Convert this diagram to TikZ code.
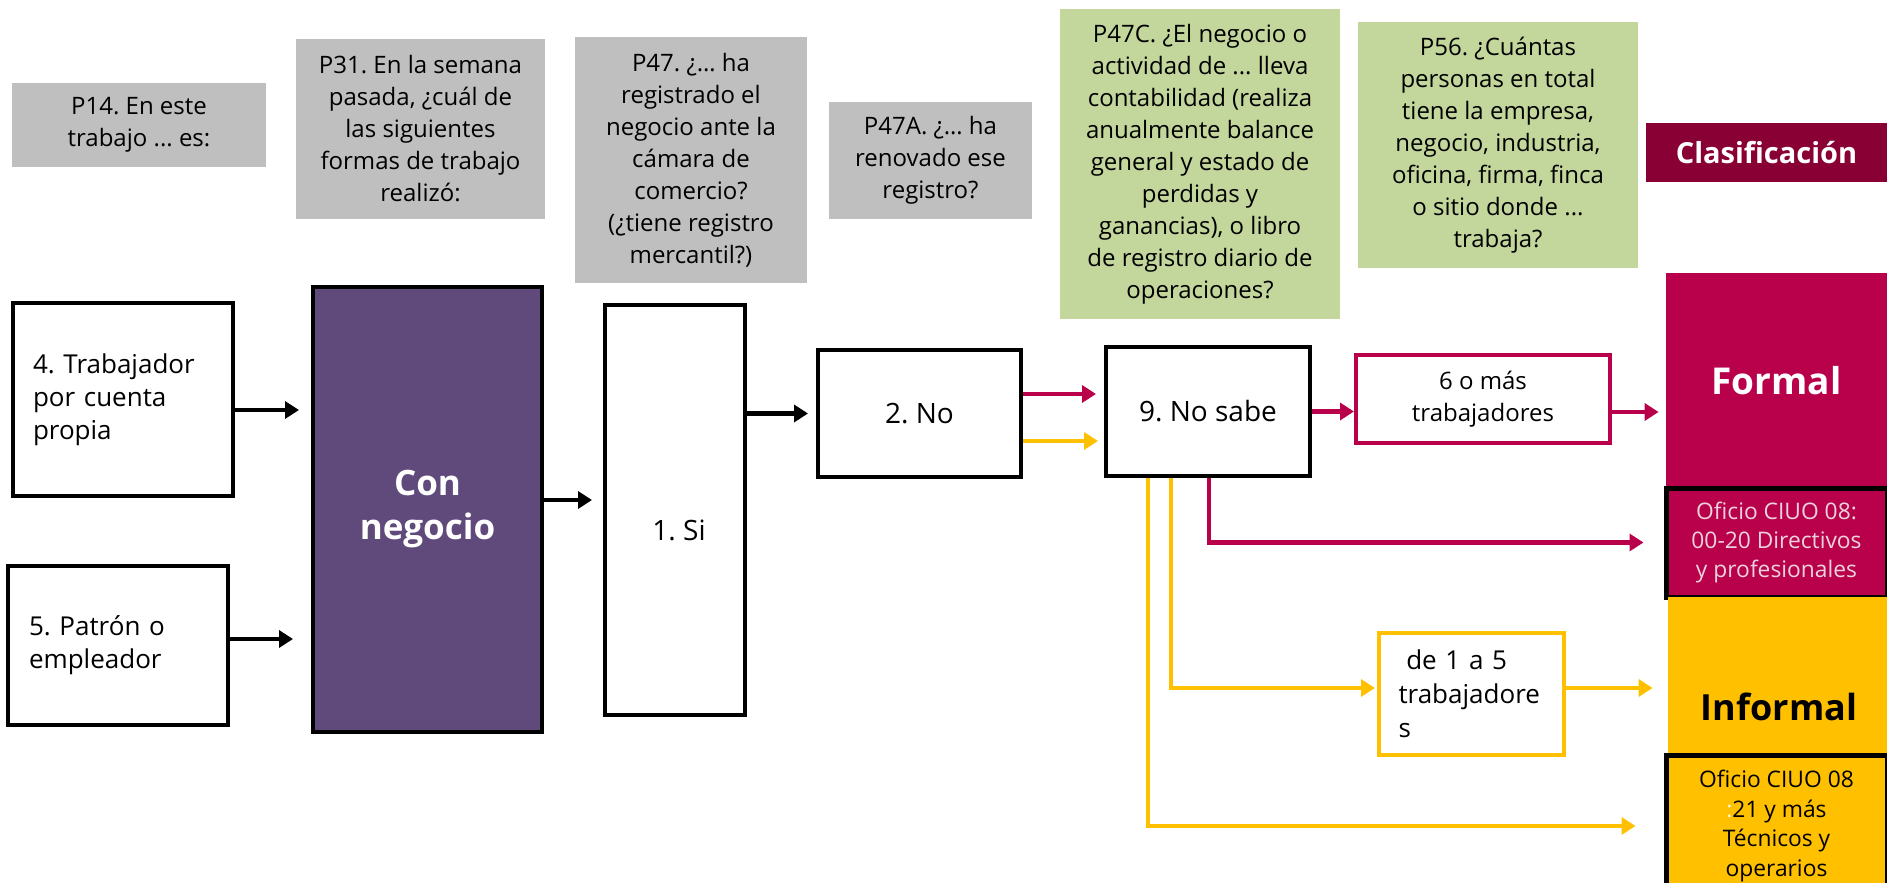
\documentclass[tikz,border=0pt]{standalone}
\usepackage{fontspec}
\setmainfont{Open Sans}
\usetikzlibrary{arrows.meta,calc}
\definecolor{qgray}{HTML}{BFBFBF}
\definecolor{qgreen}{HTML}{C3D69B}
\definecolor{purp}{HTML}{604A7B}
\definecolor{crim}{HTML}{B9004B}
\definecolor{darkcrim}{HTML}{890034}
\definecolor{gold}{HTML}{FFC000}
\definecolor{pinktxt}{HTML}{EBD3DC}
\definecolor{ltyel}{HTML}{FFF2CC}
\newcommand\fsz[2]{\fontsize{#1}{#2}\selectfont}
\frenchspacing
\begin{document}
\begin{tikzpicture}[x=0.5pt,y=-0.5pt,
  qbox/.style={fill=qgray, draw=none, align=center, inner sep=0pt, font=\fsz{12pt}{16pt}},
  gbox/.style={fill=qgreen, draw=none, align=center, inner sep=0pt, font=\fsz{12pt}{16pt}},
  wbox/.style={fill=white, draw=black, line width=2pt, inner sep=0pt},
  cbox/.style={fill=white, draw=crim, line width=2pt, inner sep=0pt},
  ybox/.style={fill=white, draw=gold, line width=2pt, inner sep=0pt},
  arrtip/.style={line width=2.2pt, -{Triangle[length=7pt,width=8.5pt]}},
  blkarr/.style={arrtip, draw=black},
  crimarr/.style={arrtip, draw=crim},
  goldarr/.style={arrtip, draw=gold},
]
\useasboundingbox (0,0) rectangle (1887,883);
\clip (0,0) rectangle (1887,883);

% question boxes
\node[qbox, minimum width=127pt, minimum height=42pt] (p14) at (139,125) {P14. En este\\trabajo ... es:};
\node[qbox, minimum width=124.5pt, minimum height=90pt] (p31) at (420.5,129) {P31. En la semana\\pasada, ¿cuál de\\las siguientes\\formas de trabajo\\realizó:};
\node[qbox, minimum width=116pt, minimum height=123pt] (p47) at (691,160) {P47. ¿… ha\\registrado el\\negocio ante la\\cámara de\\comercio?\\(¿tiene registro\\mercantil?)};
\node[qbox, minimum width=101.5pt, minimum height=58.5pt] (p47a) at (930.5,160.5) {P47A. ¿… ha\\renovado ese\\registro?};
\node[gbox, minimum width=140pt, minimum height=155pt] (p47c) at (1200,164) {P47C. ¿El negocio o\\actividad de ... lleva\\contabilidad (realiza\\anualmente balance\\general y estado de\\perdidas y\\ganancias), o libro\\de registro diario de\\operaciones?};
\node[gbox, minimum width=140pt, minimum height=123pt] (p56) at (1498,145) {P56. ¿Cuántas\\personas en total\\tiene la empresa,\\negocio, industria,\\oficina, firma, finca\\o sitio donde ...\\trabaja?};
\node[fill=darkcrim, text=white, inner sep=0pt, font=\fsz{14.5pt}{17pt}\bfseries, minimum width=120.5pt, minimum height=29.5pt] (clas) at (1766.5,152.5) {Clasificación};

% flow boxes
\node[wbox, text width=90pt, align=left, inner xsep=10pt, minimum height=96.5pt, font=\fsz{13pt}{16.5pt}] (t4) at (123,399.5) {4. Trabajador\\por cuenta\\propia};
\node[wbox, text width=89pt, align=left, inner xsep=10.5pt, minimum height=79.5pt, font=\fsz{13pt}{16.5pt}] (t5) at (118,645.5) {5. Patrón o\\empleador};
\node[wbox, fill=purp, text=white, align=center, minimum width=114.5pt, minimum height=222.5pt, font=\fsz{17.5pt}{22pt}\bfseries] (con) at (427.5,509.5) {Con\\negocio};
\node[wbox, minimum width=70pt, minimum height=205pt] (si) at (675,510) {};
\node[font=\fsz{14pt}{17pt}] (sit) at (679,530) {1. Si};
\node[wbox, minimum width=101.5pt, minimum height=63.5pt, font=\fsz{14pt}{17pt}] (no) at (919.5,413.5) {2. No};
\node[wbox, minimum width=102pt, minimum height=64.5pt, font=\fsz{14pt}{17pt}] (ns) at (1208,411.5) {9. No sabe};
\node[cbox, align=center, minimum width=127pt, minimum height=44pt, font=\fsz{12pt}{16pt}] (six) at (1483,399) {6 o más\\trabajadores};
\node[ybox, text width=73pt, align=left, inner xsep=9.75pt, minimum height=61pt, font=\fsz{13pt}{17pt}] (d15) at (1471.5,694) {\hspace{0.3em}de 1 a 5\\trabajadore\\s};

% classification column
\node[fill=crim, inner sep=0pt, minimum width=110.5pt, minimum height=107.5pt, text=white, font=\fsz{18.5pt}{22pt}\bfseries] (formal) at (1776.5,380.5) {Formal};
\node[fill=crim, draw=black, line width=2.5pt, inner sep=0pt, align=center, minimum width=110.5pt, minimum height=54.5pt, text=pinktxt, font=\fsz{11.4pt}{14.7pt}] (of1) at (1776.5,542.5) {Oficio CIUO 08:\\00-20 Directivos\\y profesionales};
\node[fill=gold, inner sep=0pt, minimum width=109.5pt, minimum height=79pt] (informal) at (1777.5,676) {};
\node[font=\fsz{18pt}{22pt}\bfseries] (inftxt) at (1779,707) {Informal};
\node[fill=gold, draw=black, line width=2.5pt, inner sep=0pt, align=center, minimum width=110.5pt, minimum height=71pt, font=\fsz{11.4pt}{14.7pt}] (of2) at (1776.5,826) {Oficio CIUO 08\\{\color{ltyel}:}21 y más\\Técnicos y\\operarios};

% connectors
\draw[blkarr, shorten >=6pt] ([yshift=-5.25pt]t4.east) -- ([yshift=-5.25pt]t4.east -| con.west);
\draw[blkarr, shorten >=9pt] ([yshift=3.25pt]t5.east) -- ([yshift=3.25pt]t5.east -| con.west);
\draw[blkarr, shorten >=5.5pt] ([yshift=4.75pt]con.east) -- ([yshift=4.75pt]con.east -| si.west);
\draw[blkarr, shorten >=4pt] (si.east |- no.west) -- (no.west);
\draw[crimarr, shorten >=4pt] ([yshift=9.75pt]no.east) -- ([yshift=9.75pt]no.east -| ns.west);
\draw[goldarr, shorten >=3pt] ([yshift=-13.75pt]no.east) -- ([yshift=-13.75pt]no.east -| ns.west);
\draw[crimarr] (ns.east) -- (ns.east -| six.west);
\draw[crimarr, shorten >=3.5pt] ([yshift=-6.5pt]six.east) -- ([yshift=-6.5pt]six.east -| formal.west);
\draw[crimarr, shorten >=10pt] ([xshift=0.5pt]ns.south) |- (of1.west);
\draw[goldarr, shorten >=1pt] ([xshift=-18.5pt]ns.south) |- ([yshift=3pt]d15.west);
\draw[goldarr, shorten >=7.5pt] ([yshift=3pt]d15.east) -- ([yshift=3pt]d15.east -| informal.west);
\draw[goldarr, shorten >=14pt] ([xshift=-30pt]ns.south) |- (of2.west);
\end{tikzpicture}
\end{document}
